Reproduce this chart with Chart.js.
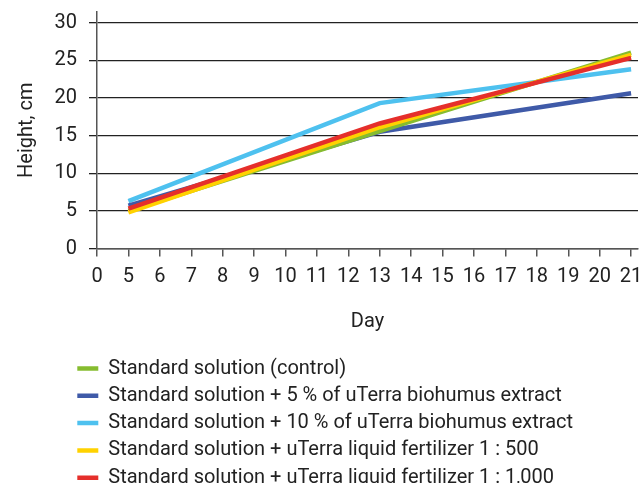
<!DOCTYPE html>
<html>
<head>
<meta charset="utf-8">
<script src="https://cdn.jsdelivr.net/npm/chart.js@4"></script>
<style>
  html, body { margin: 0; padding: 0; background: #fff; }
  #wrap { width: 639px; height: 483px; }
</style>
</head>
<body>
<div id="wrap"><canvas id="c" width="639" height="483"></canvas></div>
<script>
// Axis category labels (days)
const dayLabels = ['0','5','6','7','8','9','10','11','12','13','14','15','16','17','18','19','20','21'];
// Days at which measurements were taken
const measureDays = ['5','13','21'];
// Series names and values (height, cm)
const seriesNames = [
  'Standard solution (control)',
  'Standard solution + 5 % of uTerra biohumus extract',
  'Standard solution + 10 % of uTerra biohumus extract',
  'Standard solution + uTerra liquid fertilizer 1 : 500',
  'Standard solution + uTerra liquid fertilizer 1 : 1,000'
];
const controlValues   = [5.0, 15.6, 26.0];
const bio5Values      = [5.7, 15.5, 20.6];
const bio10Values     = [6.3, 19.3, 23.8];
const fert500Values   = [4.8, 16.1, 25.7];
const fert1000Values  = [5.3, 16.6, 25.3];
const yTicks = [0, 5, 10, 15, 20, 25, 30];

const seriesValues = [controlValues, bio5Values, bio10Values, fert500Values, fert1000Values];
const colors = ['#86bc2f', '#3f5aa8', '#4ec1ef', '#ffd200', '#e52f2b'];
const drawOrder = [2, 3, 4, 1, 0];

const toPoints = vals => vals.map((v, i) => ({ x: dayLabels.indexOf(measureDays[i]), y: v }));

const datasets = seriesNames.map((name, i) => ({
  label: name,
  data: toPoints(seriesValues[i]),
  borderColor: colors[i],
  backgroundColor: colors[i],
  borderWidth: 4.5,
  pointRadius: 0,
  pointHoverRadius: 0,
  tension: 0,
  fill: false,
  order: drawOrder[i]
}));

const legendShift = {
  id: 'legendShift',
  afterLayout(chart) {
    const l = chart.legend;
    const w = l.width, h = l.height;
    l.left = 70; l.right = 70 + w;
    l.top = 351.2; l.bottom = 351.2 + h;
  }
};

const tickFont = { family: 'Roboto, sans-serif', size: 20 };
const titleFont = { family: 'Roboto, sans-serif', size: 20, lineHeight: 1 };

new Chart(document.getElementById('c'), {
  type: 'line',
  data: { datasets },
  plugins: [legendShift],
  options: {
    responsive: false,
    animation: false,
    events: [],
    layout: { padding: { top: 12, right: 1, left: 0, bottom: 0 } },
    plugins: {
      tooltip: { enabled: false },
      legend: {
        position: 'bottom',
        align: 'start',
        labels: {
          font: { family: 'Roboto, sans-serif', size: 20 },
          color: '#222',
          usePointStyle: true,
          pointStyle: 'line',
          pointStyleWidth: 21,
          padding: 7.3,
          sort: (a, b) => a.datasetIndex - b.datasetIndex
        }
      }
    },
    scales: {
      x: {
        type: 'linear',
        min: 0,
        max: 17.22,
        afterFit: s => { s.height = 88; s.paddingLeft = 0; s.paddingRight = 0; },
        ticks: {
          stepSize: 1,
          includeBounds: false,
          autoSkip: false,
          maxRotation: 0,
          font: tickFont,
          color: '#222',
          padding: 8,
          callback: v => dayLabels[Math.round(v)]
        },
        grid: { drawOnChartArea: false, drawTicks: true, tickLength: 8, color: '#555', lineWidth: 1.5 },
        border: { color: '#555', width: 1.5 },
        title: { display: true, text: 'Day', font: titleFont, color: '#222', padding: { top: 0, bottom: 4.5 } }
      },
      y: {
        min: 0,
        max: 31.4,
        afterFit: s => { s.width = 97; s.paddingTop = 0; s.paddingBottom = 0; },
        afterBuildTicks: s => { s.ticks = yTicks.map(v => ({ value: v })); },
        ticks: { font: tickFont, color: '#222', padding: 12 },
        grid: { color: '#222', lineWidth: 1.3, tickLength: 8, drawTicks: true },
        border: { color: '#555', width: 1.5 },
        title: { display: true, text: 'Height, cm', font: titleFont, color: '#222', padding: { top: 17, bottom: 0 } }
      }
    }
  }
});
</script>
</body>
</html>
